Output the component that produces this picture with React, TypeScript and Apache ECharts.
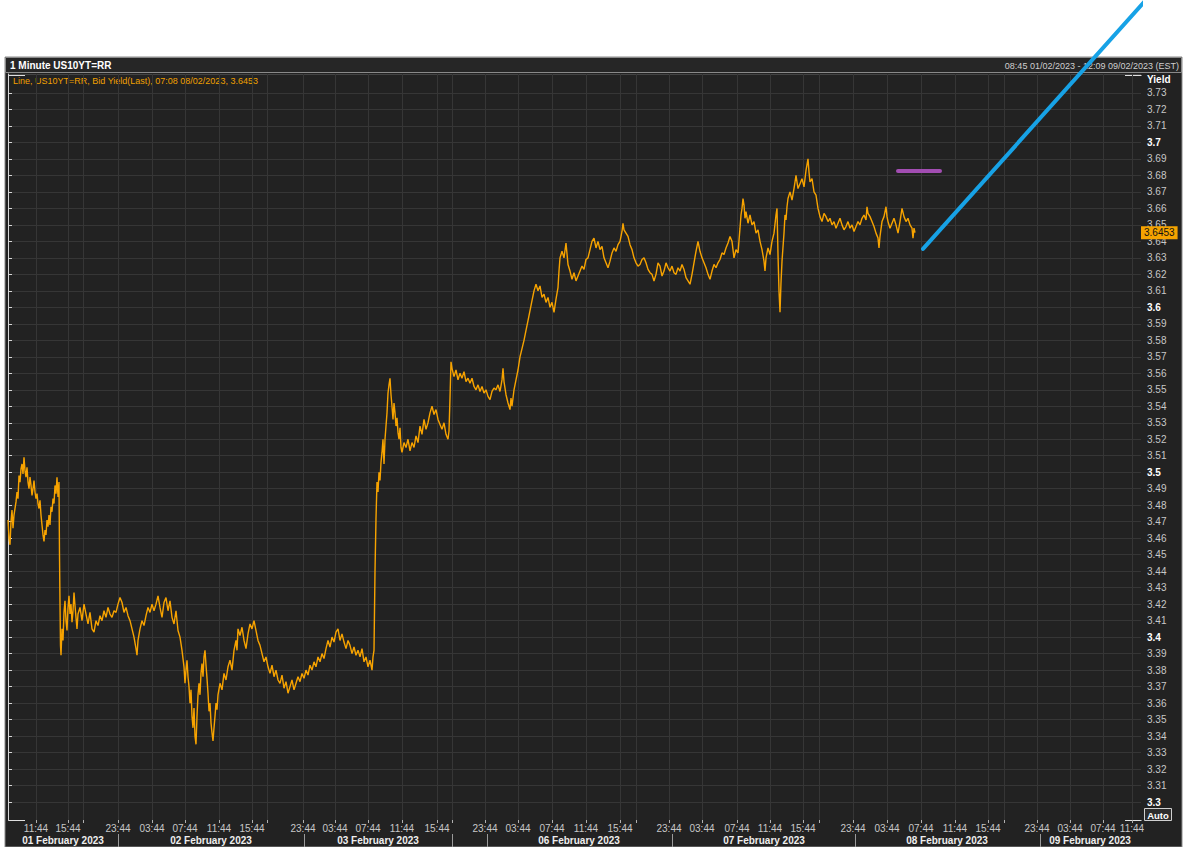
import React, { useEffect, useRef } from "react";
import * as echarts from "echarts";

// X unit: display slot of the 1-minute bar chart (one slot ~ 7.2 minutes of charted trading time)
const X_MIN = 0;
const X_MAX = 1133;
const Y_MIN = 3.2891;
const Y_MAX = 3.7415;

const timeTickSlots = [28, 60, 75, 110, 144, 177, 211, 244, 259, 295, 327, 360, 394, 429, 444, 477, 510, 544, 578, 612, 628, 661, 694, 729, 762, 795, 811, 845, 879, 913, 947, 980, 996, 1029, 1062, 1095, 1124];
const timeTickLabels = ["11:44", "15:44", "", "23:44", "03:44", "07:44", "11:44", "15:44", "", "23:44", "03:44", "07:44", "11:44", "15:44", "", "23:44", "03:44", "07:44", "11:44", "15:44", "", "23:44", "03:44", "07:44", "11:44", "15:44", "", "23:44", "03:44", "07:44", "11:44", "15:44", "", "23:44", "03:44", "07:44", "11:44"];

const dateSeparatorSlots = [110, 296, 444, 479, 664, 847, 1032];
const dateLabelSlots = [55, 203, 370, 571, 756, 939, 1082];
const dateLabels = ["01 February 2023", "02 February 2023", "03 February 2023", "06 February 2023", "07 February 2023", "08 February 2023", "09 February 2023"];

const yTickValues = [3.3, 3.31, 3.32, 3.33, 3.34, 3.35, 3.36, 3.37, 3.38, 3.39, 3.4, 3.41, 3.42, 3.43, 3.44, 3.45, 3.46, 3.47, 3.48, 3.49, 3.5, 3.51, 3.52, 3.53, 3.54, 3.55, 3.56, 3.57, 3.58, 3.59, 3.6, 3.61, 3.62, 3.63, 3.64, 3.65, 3.66, 3.67, 3.68, 3.69, 3.7, 3.71, 3.72, 3.73];

const lastValue = 3.6453;

// US10YT=RR bid yield, 1-minute line, [slot, yield]
const yieldPoints: [number, number][] = [
  [0, 3.471], [1, 3.46], [2, 3.456], [3, 3.47], [4, 3.477], [5, 3.466], [6, 3.474], [8, 3.482], [9, 3.488], [10, 3.484], [11, 3.498], [12, 3.494], [13, 3.502], [14, 3.505], [15, 3.499], [16, 3.509], [17, 3.501], [18, 3.497], [19, 3.503], [20, 3.494], [21, 3.49], [22, 3.497], [23, 3.492], [24, 3.486], [25, 3.49], [26, 3.495], [27, 3.488], [28, 3.484], [29, 3.487], [30, 3.481], [31, 3.478], [32, 3.483], [33, 3.474], [34, 3.468], [35, 3.462], [36, 3.458], [37, 3.465], [38, 3.462], [39, 3.471], [40, 3.467], [41, 3.474], [42, 3.468], [43, 3.479], [44, 3.476], [45, 3.484], [46, 3.481], [47, 3.492], [48, 3.487], [49, 3.497], [50, 3.485], [51, 3.494], [51.5, 3.45], [52, 3.42], [52.5, 3.395], [53, 3.389],
  [54, 3.405], [55, 3.398], [56, 3.415], [57, 3.422], [58, 3.41], [59, 3.404], [60, 3.418], [61, 3.425], [62, 3.414], [63, 3.42], [64, 3.409], [65, 3.416], [66, 3.427], [67, 3.419], [68, 3.412], [69, 3.405], [70, 3.414], [72, 3.418], [74, 3.41], [76, 3.42], [78, 3.414], [80, 3.408], [82, 3.415], [84, 3.405], [86, 3.403], [88, 3.41], [90, 3.407], [92, 3.413], [94, 3.41], [96, 3.416], [98, 3.412], [100, 3.418], [102, 3.414], [104, 3.412], [106, 3.416], [108, 3.415], [110, 3.42], [112, 3.424], [114, 3.421], [116, 3.415], [118, 3.418], [120, 3.413], [122, 3.41], [124, 3.405], [126, 3.4], [128, 3.393], [129, 3.389], [130, 3.398], [132, 3.405], [134, 3.41], [136, 3.407], [138, 3.413], [140, 3.418], [142, 3.415], [144, 3.42], [146, 3.416], [148, 3.42], [150, 3.425], [152, 3.418], [154, 3.412], [156, 3.421], [158, 3.424], [160, 3.416], [162, 3.422], [164, 3.412], [166, 3.408], [168, 3.416], [170, 3.404],
  [172, 3.4], [174, 3.392], [176, 3.382], [177, 3.372], [178, 3.38], [179, 3.386], [180, 3.376], [181, 3.37], [182, 3.36], [183, 3.368], [184, 3.352], [185, 3.345], [186, 3.357], [187, 3.34], [188, 3.335], [189, 3.352], [190, 3.365], [191, 3.372], [192, 3.365], [193, 3.378], [194, 3.384], [195, 3.376], [196, 3.388], [197, 3.392], [198, 3.383], [199, 3.375], [200, 3.366], [201, 3.355], [202, 3.36], [203, 3.348], [204, 3.342], [205, 3.337], [206, 3.345], [207, 3.352], [208, 3.36], [209, 3.356], [210, 3.365], [212, 3.372], [214, 3.368], [216, 3.378], [218, 3.374], [220, 3.382], [222, 3.386], [224, 3.38], [226, 3.392], [228, 3.398], [229, 3.392], [230, 3.405], [232, 3.401], [234, 3.406], [236, 3.398], [238, 3.393], [240, 3.402], [242, 3.408], [244, 3.405], [246, 3.41], [248, 3.404], [250, 3.398], [252, 3.395], [254, 3.39], [256, 3.385], [258, 3.388], [260, 3.382], [262, 3.378], [264, 3.383], [266, 3.376], [268, 3.38], [270, 3.374], [272, 3.372], [274, 3.377], [276, 3.369], [278, 3.373], [280, 3.366], [282, 3.37], [284, 3.374], [286, 3.368], [288, 3.372], [290, 3.376], [292, 3.373], [294, 3.378], [296, 3.375], [298, 3.38], [300, 3.377], [302, 3.383], [304, 3.38], [306, 3.385], [308, 3.382], [310, 3.388], [312, 3.385], [314, 3.39], [316, 3.387], [318, 3.393], [320, 3.398], [322, 3.394], [324, 3.4], [326, 3.397], [328, 3.403], [330, 3.405], [332, 3.398], [334, 3.402], [336, 3.397], [338, 3.393], [340, 3.398], [342, 3.395], [344, 3.39], [346, 3.394], [348, 3.389], [350, 3.392], [352, 3.388], [354, 3.393], [356, 3.385], [358, 3.388], [360, 3.382], [362, 3.386], [364, 3.38], [365, 3.388], [366, 3.392],
  [367, 3.44], [368, 3.472], [369, 3.494], [370, 3.488], [371, 3.5], [372, 3.495], [373, 3.506], [374, 3.512], [375, 3.52], [376, 3.505], [377, 3.52], [378, 3.528], [379, 3.536], [380, 3.548], [381, 3.553], [382, 3.557], [383, 3.547], [384, 3.54], [385, 3.532], [386, 3.542], [387, 3.536], [388, 3.528], [389, 3.533], [390, 3.524], [391, 3.52], [392, 3.527], [393, 3.515], [394, 3.512], [396, 3.518], [398, 3.515], [400, 3.52], [402, 3.513], [404, 3.518], [406, 3.515], [408, 3.522], [410, 3.518], [412, 3.528], [414, 3.523], [416, 3.532], [418, 3.526], [420, 3.53], [422, 3.536], [424, 3.54], [426, 3.535], [428, 3.538], [430, 3.532], [432, 3.529], [434, 3.526], [436, 3.53], [438, 3.523], [440, 3.52], [441, 3.525],
  [442, 3.545], [443, 3.567], [444, 3.563], [446, 3.558], [448, 3.562], [450, 3.556], [452, 3.56], [454, 3.557], [456, 3.561], [458, 3.555], [460, 3.557], [462, 3.554], [464, 3.557], [466, 3.552], [468, 3.55], [470, 3.553], [472, 3.549], [474, 3.552], [476, 3.548], [478, 3.55], [480, 3.546], [482, 3.544], [484, 3.549], [486, 3.551], [488, 3.55], [490, 3.553], [492, 3.549], [494, 3.556], [495, 3.563], [496, 3.555], [498, 3.547], [500, 3.542], [502, 3.538], [503, 3.545], [504, 3.54], [506, 3.55], [508, 3.556], [510, 3.562], [512, 3.57], [514, 3.575], [516, 3.58], [518, 3.586], [520, 3.592], [522, 3.598], [524, 3.604], [526, 3.61], [528, 3.614], [530, 3.61], [532, 3.613], [534, 3.606], [536, 3.608], [538, 3.603], [540, 3.606], [542, 3.6], [544, 3.603], [546, 3.597], [548, 3.605], [550, 3.612], [551, 3.622], [552, 3.63], [554, 3.634], [556, 3.63], [558, 3.639], [560, 3.626], [562, 3.622], [564, 3.617], [566, 3.621], [568, 3.616], [570, 3.619], [572, 3.622], [574, 3.625], [576, 3.623], [578, 3.629], [580, 3.63], [582, 3.635], [584, 3.64], [586, 3.642], [588, 3.636], [590, 3.64], [592, 3.635], [594, 3.637], [596, 3.63], [598, 3.627], [600, 3.624], [602, 3.628], [604, 3.633], [606, 3.636], [608, 3.634], [610, 3.638], [612, 3.64], [614, 3.646], [615, 3.651], [616, 3.647], [618, 3.645], [620, 3.643], [622, 3.638], [624, 3.635], [626, 3.63], [628, 3.627], [630, 3.625], [632, 3.626], [634, 3.629], [636, 3.63], [638, 3.627], [640, 3.623], [642, 3.621], [644, 3.62], [646, 3.616], [648, 3.62], [650, 3.627], [652, 3.625], [654, 3.619], [656, 3.622], [658, 3.627], [660, 3.624], [662, 3.622], [664, 3.625], [666, 3.621], [668, 3.62], [670, 3.624], [672, 3.622], [674, 3.626], [676, 3.623], [678, 3.618], [680, 3.616], [682, 3.614], [684, 3.62], [686, 3.627], [688, 3.634], [690, 3.64], [692, 3.634], [694, 3.63], [696, 3.627], [698, 3.624], [700, 3.62], [702, 3.617], [704, 3.622], [706, 3.626], [708, 3.624], [710, 3.627], [712, 3.629], [714, 3.633], [716, 3.632], [718, 3.636], [720, 3.639], [722, 3.643], [724, 3.64], [726, 3.63], [728, 3.635], [730, 3.633], [732, 3.648], [733, 3.656], [734, 3.66], [735, 3.666], [736, 3.662], [737, 3.654], [738, 3.658], [740, 3.651], [742, 3.656], [744, 3.65], [746, 3.652], [748, 3.645], [750, 3.647], [752, 3.64], [754, 3.635], [756, 3.628], [757, 3.622], [758, 3.63], [760, 3.636], [762, 3.632], [764, 3.64], [766, 3.645], [768, 3.656], [769, 3.66], [770, 3.632], [771, 3.61], [772, 3.597], [773, 3.615], [774, 3.628], [776, 3.645], [777, 3.656], [778, 3.653], [779, 3.661], [780, 3.666], [782, 3.67], [784, 3.665], [786, 3.672], [788, 3.68], [789, 3.676], [790, 3.672], [792, 3.675], [794, 3.678], [796, 3.673], [798, 3.683], [800, 3.69], [801, 3.682], [802, 3.676], [804, 3.678], [806, 3.67], [808, 3.668], [810, 3.66], [812, 3.655], [814, 3.652], [816, 3.657], [818, 3.655], [820, 3.652], [822, 3.654], [824, 3.65], [826, 3.652], [828, 3.648], [830, 3.651], [832, 3.654], [834, 3.65], [836, 3.647], [838, 3.649], [840, 3.652], [842, 3.648], [844, 3.65], [846, 3.646], [848, 3.649], [850, 3.652], [852, 3.65], [854, 3.654], [856, 3.656], [858, 3.653], [859, 3.661], [860, 3.657], [862, 3.655], [864, 3.652], [866, 3.649], [868, 3.645], [870, 3.642], [871, 3.636], [872, 3.643], [874, 3.652], [876, 3.655], [878, 3.661], [879, 3.655], [880, 3.652], [882, 3.648], [884, 3.651], [886, 3.654], [888, 3.65], [890, 3.645], [892, 3.652], [894, 3.66], [896, 3.655], [898, 3.652], [900, 3.654], [902, 3.65], [904, 3.648], [905, 3.642], [906, 3.648], [907, 3.6453]
];

// drawn annotations
const purpleLevel: [number, number][] = [[890, 3.6827], [932, 3.6827]];
const blueTrend: [number, number][] = [[915, 3.6354], [1138, 3.7864]];

const FONT = '"Liberation Sans", Arial, sans-serif';

export default function App() {
  const ref = useRef<HTMLDivElement>(null);
  useEffect(() => {
    if (!ref.current) return;
    const chart = echarts.init(ref.current, undefined, { renderer: "svg" });
    const timeLabelMap: Record<string, string> = {};
    timeTickSlots.forEach((s, i) => (timeLabelMap[String(s)] = timeTickLabels[i]));
    const dateLabelMap: Record<string, string> = {};
    dateLabelSlots.forEach((s, i) => (dateLabelMap[String(s)] = dateLabels[i]));
    const labeledTimeSlots = timeTickSlots.filter((_, i) => timeTickLabels[i] !== "");

    const option: any = {
      animation: false,
      backgroundColor: "#ffffff",
      textStyle: { fontFamily: FONT },
      grid: { left: 8, right: 59, top: 74, bottom: 27, containLabel: false },
      xAxis: [
        {
          type: "value",
          min: X_MIN,
          max: X_MAX,
          position: "bottom",
          axisLine: { show: false },
          axisTick: { show: true, length: 3, customValues: timeTickSlots, lineStyle: { color: "#b0b0b0" } },
          axisLabel: {
            customValues: labeledTimeSlots,
            formatter: (v: number) => timeLabelMap[String(v)] ?? "",
            color: "#c8c8c8",
            fontSize: 10,
            margin: 3,
            fontFamily: FONT,
          },
          splitLine: { show: true, lineStyle: { color: "#363636", width: 1 } },
        },
        {
          type: "value",
          min: X_MIN,
          max: X_MAX,
          position: "bottom",
          offset: 14,
          axisLine: { show: false },
          axisTick: { show: true, length: 13, customValues: dateSeparatorSlots, lineStyle: { color: "#9a9a9a" } },
          axisLabel: {
            customValues: dateLabelSlots,
            formatter: (v: number) => dateLabelMap[String(v)] ?? "",
            color: "#eeeeee",
            fontWeight: "bold",
            fontSize: 10,
            margin: 1,
            fontFamily: FONT,
          },
          splitLine: { show: false },
        },
      ],
      yAxis: {
        type: "value",
        position: "right",
        min: Y_MIN,
        max: Y_MAX,
        axisLine: { show: true, lineStyle: { color: "#d8d8d8" } },
        axisTick: { show: true, length: 4, customValues: yTickValues, lineStyle: { color: "#d8d8d8" } },
        axisLabel: {
          customValues: yTickValues,
          margin: 6,
          fontSize: 10,
          color: "#c8c8c8",
          fontFamily: FONT,
          formatter: (v: number) => {
            const s = String(+v.toFixed(2));
            return Math.abs(v * 10 - Math.round(v * 10)) < 1e-6 ? "{b|" + s + "}" : s;
          },
          rich: { b: { fontWeight: "bold", color: "#ffffff", fontSize: 10, fontFamily: FONT } },
        },
        splitLine: { show: true, lineStyle: { color: "#363636", width: 1 } },
      },
      series: [
        {
          type: "line",
          name: "US10YT=RR",
          data: yieldPoints,
          showSymbol: false,
          symbol: "none",
          z: 5,
          lineStyle: { color: "#f7a300", width: 1.4 },
          markLine: {
            silent: true,
            symbol: "none",
            precision: 4,
            data: [{ yAxis: lastValue }],
            lineStyle: { color: "rgba(0,0,0,0)", width: 1, type: "solid" },
            label: {
              show: true,
              position: "end",
              distance: 0,
              formatter: "3.6453",
              backgroundColor: "#f5a300",
              color: "#111111",
              fontSize: 10,
              fontFamily: FONT,
              padding: [2, 3, 1, 3],
            },
          },
        },
        {
          type: "line",
          name: "level",
          data: purpleLevel,
          showSymbol: false,
          symbol: "none",
          z: 8,
          lineStyle: { color: "#a24db2", width: 4, cap: "round" },
        },
        {
          type: "line",
          name: "trend",
          data: blueTrend,
          showSymbol: false,
          symbol: "none",
          clip: false,
          z: 10,
          lineStyle: { color: "#17a2e6", width: 4, cap: "round" },
        },
      ],
      graphic: [
        { type: "rect", z: -100, shape: { x: 5, y: 57, width: 1177, height: 790 }, style: { fill: "#222222", stroke: "#8a8a8a", lineWidth: 1 } },
        { type: "rect", z: -99, shape: { x: 5.5, y: 57.5, width: 1176, height: 15 }, style: { fill: "#262626", stroke: "#8a8a8a", lineWidth: 1 } },
        { type: "line", z: -98, shape: { x1: 8, y1: 74.5, x2: 1141, y2: 74.5 }, style: { stroke: "#444444", lineWidth: 1 } },
        { type: "text", z: -90, x: 10, y: 65, style: { text: "1 Minute US10YT=RR", fill: "#ffffff", font: "bold 10px " + FONT, textVerticalAlign: "middle" } },
        { type: "text", z: -90, x: 1179, y: 66, style: { text: "08:45 01/02/2023 - 12:09 09/02/2023 (EST)", fill: "#cfcfcf", font: "9px " + FONT, textAlign: "right", textVerticalAlign: "middle" } },
        { type: "text", z: -90, x: 13, y: 81, style: { text: "Line, US10YT=RR, Bid Yield(Last), 07:08 08/02/2023, 3.6453", fill: "#f0a000", font: "9px " + FONT, textVerticalAlign: "middle" } },
        { type: "text", z: -90, x: 1147, y: 79, style: { text: "Yield", fill: "#ffffff", font: "bold 10px " + FONT, textVerticalAlign: "middle" } },
        { type: "polyline", z: -90, shape: { points: [[25, 75.5], [8.5, 75.5], [8.5, 820.5], [25, 820.5]] }, style: { stroke: "#e0e0e0", lineWidth: 1, fill: null } },
        { type: "polyline", z: -90, shape: { points: [[1125, 75.5], [1141.5, 75.5]] }, style: { stroke: "#e0e0e0", lineWidth: 1, fill: null } },
        { type: "polyline", z: -90, shape: { points: [[1125, 820.5], [1141.5, 820.5]] }, style: { stroke: "#e0e0e0", lineWidth: 1, fill: null } },
        { type: "rect", z: -90, shape: { x: 1144.5, y: 808.5, width: 27, height: 12 }, style: { fill: "#2c2c2c", stroke: "#d0d0d0", lineWidth: 1 } },
        { type: "text", z: -89, x: 1158, y: 815, style: { text: "Auto", fill: "#ffffff", font: "bold 9.5px " + FONT, textAlign: "center", textVerticalAlign: "middle" } },
      ],
    };
    chart.setOption(option);
    return () => chart.dispose();
  }, []);
  return <div ref={ref} style={{ position: "fixed", left: 0, top: 0, width: 1200, height: 847 }} />;
}
